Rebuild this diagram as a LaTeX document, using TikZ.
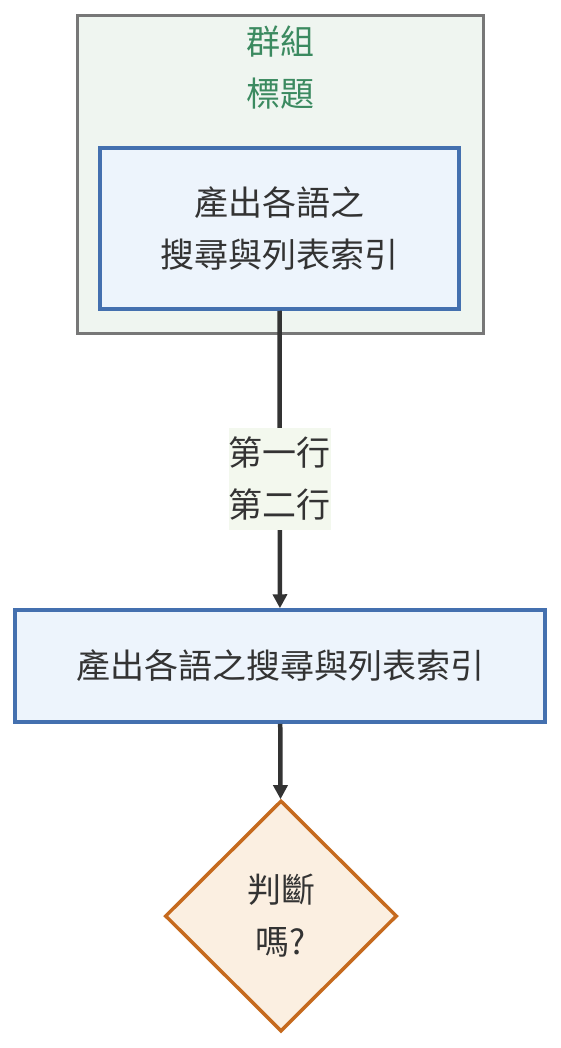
\documentclass[tikz,border=0pt]{standalone}
\usepackage{fontspec}
\setmainfont{Noto Sans CJK TC}
\usetikzlibrary{shapes.geometric,arrows.meta}

\definecolor{grpline}{HTML}{777777}
\definecolor{grpfill}{HTML}{EFF5F0}
\definecolor{grptext}{HTML}{3B8A60}
\definecolor{procline}{HTML}{4470AF}
\definecolor{procfill}{HTML}{EDF4FC}
\definecolor{decline}{HTML}{C66A1E}
\definecolor{decfill}{HTML}{FBEFE1}
\definecolor{lblfill}{HTML}{F3F8EE}
\definecolor{ink}{HTML}{333333}

\tikzset{
    txt/.style={font=\fontsize{34}{52}\selectfont, text=ink, align=center},
    groupbox/.style={draw=grpline, fill=grpfill, line width=3pt},
    proc/.style={txt, draw=procline, fill=procfill, line width=3.5pt, inner sep=0pt},
    decision/.style={txt, diamond, draw=decline, fill=decfill, line width=3.5pt, inner sep=0pt},
    flow/.style={draw=ink, line width=4.5pt, -{Triangle[length=14pt,width=14pt]}},
    lbl/.style={txt, fill=lblfill, minimum width=102pt, minimum height=102pt, inner sep=0pt}
}

\begin{document}
\begin{tikzpicture}[x=1pt,y=-1pt]
    \useasboundingbox (0,0) rectangle (560,1048);

    % group
    \node[groupbox, minimum width=406pt, minimum height=317pt] (grp) at (280,174.5) {};
    \node[txt, text=grptext] (ttl) at (280,68) {群組\\標題};
    \node[proc, minimum width=359pt, minimum height=161pt] (idx) at (279.5,228.5) {產出各語之\\搜尋與列表索引};

    \node[proc, minimum width=530pt, minimum height=112pt] (out) at (280,666) {產出各語之搜尋與列表索引};
    \node[decision, minimum width=232pt, minimum height=231pt] (chk) at (281,916) {判斷\\嗎?};

    \draw[flow] (idx) -- node[lbl, pos=0.565] {第一行\\第二行} (out);
    \draw[flow] (out) -- (chk);
\end{tikzpicture}
\end{document}
